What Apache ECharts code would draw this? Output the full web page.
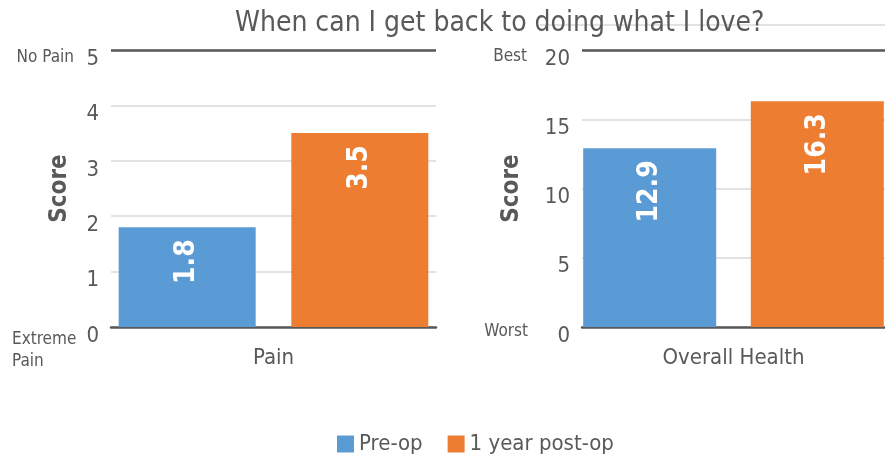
<!DOCTYPE html>
<html>
<head>
<meta charset="utf-8">
<script src="https://cdn.jsdelivr.net/npm/echarts@6/dist/echarts.min.js"></script>
<style>
  html, body { margin: 0; padding: 0; background: #fff; }
  #chart { width: 885px; height: 454px; }
</style>
</head>
<body>
<div id="chart"></div>
<script>
'use strict'

// data
const painCategory = ['Pain']
const healthCategory = ['Overall Health']
const seriesNames = ['Pre-op', '1 year post-op']
const painPreOp = [1.8]
const painPostOp = [3.5]
const healthPreOp = [12.9]
const healthPostOp = [16.3]
const painAxis = { min: 0, max: 5, interval: 1 }
const healthAxis = { min: 0, max: 20, interval: 5 }

const FONT = '"DejaVu Sans Condensed", "Roboto", sans-serif'
const GREY = '#595959'
const BLUE = '#5b9bd5'
const ORANGE = '#ed7d31'

function yAxisFor (scale, gridIndex, gap) {
  return {
    type: 'value',
    gridIndex: gridIndex,
    min: scale.min,
    max: scale.max,
    interval: scale.interval,
    name: 'Score',
    nameLocation: 'middle',
    nameRotate: 90,
    nameGap: gap,
    nameTextStyle: { color: GREY, fontFamily: FONT, fontWeight: 'bold', fontSize: 24 },
    axisLine: { show: false },
    axisTick: { show: false },
    axisLabel: { color: GREY, fontFamily: FONT, fontSize: 22, margin: 12, verticalAlign: 'top', lineHeight: 18 },
    splitLine: { lineStyle: { color: '#d9d9d9', width: 1.5 } }
  }
}

function xAxisFor (cats, gridIndex) {
  return {
    type: 'category',
    gridIndex: gridIndex,
    data: cats,
    axisTick: { show: false },
    axisLine: { lineStyle: { color: GREY, width: 2.5 } },
    axisLabel: { color: GREY, fontFamily: FONT, fontSize: 22, margin: 20 }
  }
}

function barLabel () {
  return {
    show: true,
    position: 'insideTop',
    distance: 12,
    rotate: 90,
    align: 'right',
    verticalAlign: 'middle',
    color: '#fff',
    fontFamily: FONT,
    fontWeight: 'bold',
    fontSize: 28
  }
}

function topLine (max) {
  return {
    silent: true,
    symbol: 'none',
    label: { show: false },
    lineStyle: { type: 'solid', color: GREY, width: 2.5 },
    data: [{ yAxis: max }]
  }
}

function bars (name, data, gi, color, width, extra) {
  return Object.assign({
    name: name,
    type: 'bar',
    xAxisIndex: gi,
    yAxisIndex: gi,
    data: data,
    barWidth: width,
    barGap: '26%',
    itemStyle: { color: color },
    label: barLabel()
  }, extra || {})
}

const chart = echarts.init(document.getElementById('chart'), null, { renderer: 'canvas' })

const sideText = (text, x, y, align) => ({
  type: 'text', x: x, y: y,
  style: { text: text, fill: GREY, font: '17px ' + FONT, textAlign: align || 'right', textVerticalAlign: 'middle', lineHeight: 22 }
})

chart.setOption({
  animation: false,
  backgroundColor: '#fff',
  textStyle: { fontFamily: FONT },
  title: {
    text: 'When can I get back to doing what I love?',
    left: 230,
    top: 5,
    textStyle: { color: GREY, fontFamily: FONT, fontWeight: 'normal', fontSize: 28 }
  },
  legend: {
    data: seriesNames,
    left: 332,
    top: 428,
    itemWidth: 17,
    itemHeight: 17,
    itemGap: 25,
    icon: 'rect',
    textStyle: { color: GREY, fontFamily: FONT, fontSize: 22 }
  },
  grid: [
    { left: 111, width: 325, top: 50, height: 277 },
    { left: 582, width: 317, top: 50, height: 277 }
  ],
  xAxis: [xAxisFor(painCategory, 0), xAxisFor(healthCategory, 1)],
  yAxis: [yAxisFor(painAxis, 0, 39), yAxisFor(healthAxis, 1, 58)],
  graphic: [
    sideText('No Pain', 74, 58),
    sideText('Extreme\nPain', 12, 351, 'left'),
    sideText('Best', 527, 57),
    sideText('Worst', 528, 332),
    { type: 'line', shape: { x1: 540, y1: 25, x2: 885, y2: 25 }, style: { stroke: '#d9d9d9', lineWidth: 1.5 }, silent: true }
  ],
  series: [
    bars(seriesNames[0], painPreOp, 0, BLUE, 137),
    bars(seriesNames[1], painPostOp, 0, ORANGE, 137, { markLine: topLine(painAxis.max) }),
    bars(seriesNames[0], healthPreOp, 1, BLUE, 133),
    bars(seriesNames[1], healthPostOp, 1, ORANGE, 133, { markLine: topLine(healthAxis.max) })
  ]
})
</script>
</body>
</html>
